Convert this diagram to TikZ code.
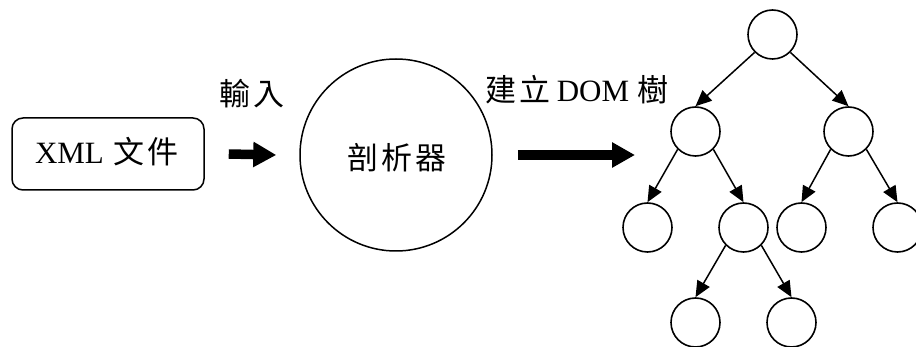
\documentclass[tikz,border=0pt]{standalone}
\usepackage{fontspec}
\setmainfont{Liberation Serif}
\newfontfamily\cjk{Noto Sans CJK TC}
\usetikzlibrary{arrows.meta}
\begin{document}
\begin{tikzpicture}[x=1pt,y=-1pt,
  big/.style={font=\fontsize{31}{37}\selectfont},
  tnode/.style={circle,draw,line width=1.6pt,minimum size=49pt,inner sep=0pt},
  tedge/.style={line width=1.5pt,-{Triangle[length=16pt,width=14pt]}},
  fat/.style={line width=9.5pt,-{Triangle[length=23pt,width=24pt]}},
  lbl/.style={big,inner sep=0pt}]
\useasboundingbox (0,0) rectangle (916,347);
% input document
\node[draw,line width=1.5pt,rounded corners=11pt,minimum width=192pt,minimum height=72pt,inner sep=0pt] (xml) at (108,154) {};
\node[lbl,anchor=base] (xmltext) at (107,164) {XML\hspace{10pt}{\cjk 文\hspace{3pt}件}};
% parser
\node[circle,draw,line width=1.5pt,minimum size=192pt,inner sep=0pt] (parser) at (396,155) {};
\node[lbl] (parsertext) at (397,158) {\cjk 剖\hspace{3pt}析\hspace{3pt}器};
% labels
\node[lbl] (inlbl) at (252,94) {\cjk 輸\hspace{3pt}入};
\node[lbl,anchor=base] (domlbl) at (577,102) {{\cjk 建\hspace{3pt}立}\hspace{6pt}DOM\hspace{8pt}{\cjk 樹}};
% tree
\node[tnode] (root) at (772.5,34.5) {};
\node[tnode] (L) at (695.5,131.5) {};
\node[tnode] (R) at (848.5,131.5) {};
\node[tnode] (LL) at (647.5,227.5) {};
\node[tnode] (LR) at (743.5,227.5) {};
\node[tnode] (RL) at (801.5,227.5) {};
\node[tnode] (RR) at (897.5,227.5) {};
\node[tnode] (LRL) at (695.5,322.5) {};
\node[tnode] (LRR) at (791.5,322.5) {};
\draw[tedge] (root.south west) -- (L.north);
\draw[tedge] (root.south east) -- (R.north);
\draw[tedge] (L.south west) -- (LL.north);
\draw[tedge] (L.south east) -- (LR.north);
\draw[tedge] (R.south west) -- (RL.north);
\draw[tedge] (R.south east) -- (RR.north);
\draw[tedge] (LR.south west) -- (LRL.north);
\draw[tedge] (LR.south east) -- (LRR.north);
% big arrows
\coordinate (a1s) at ([xshift=24pt]xml.east);
\coordinate (a1e) at ([xshift=-23pt]parser.west);
\draw[fat] (a1s) -- (a1e);
\coordinate (a2s) at ([xshift=25pt]parser.east);
\coordinate (a2e) at (635,155);
\draw[fat] (a2s) -- (a2e);
\end{tikzpicture}
\end{document}
